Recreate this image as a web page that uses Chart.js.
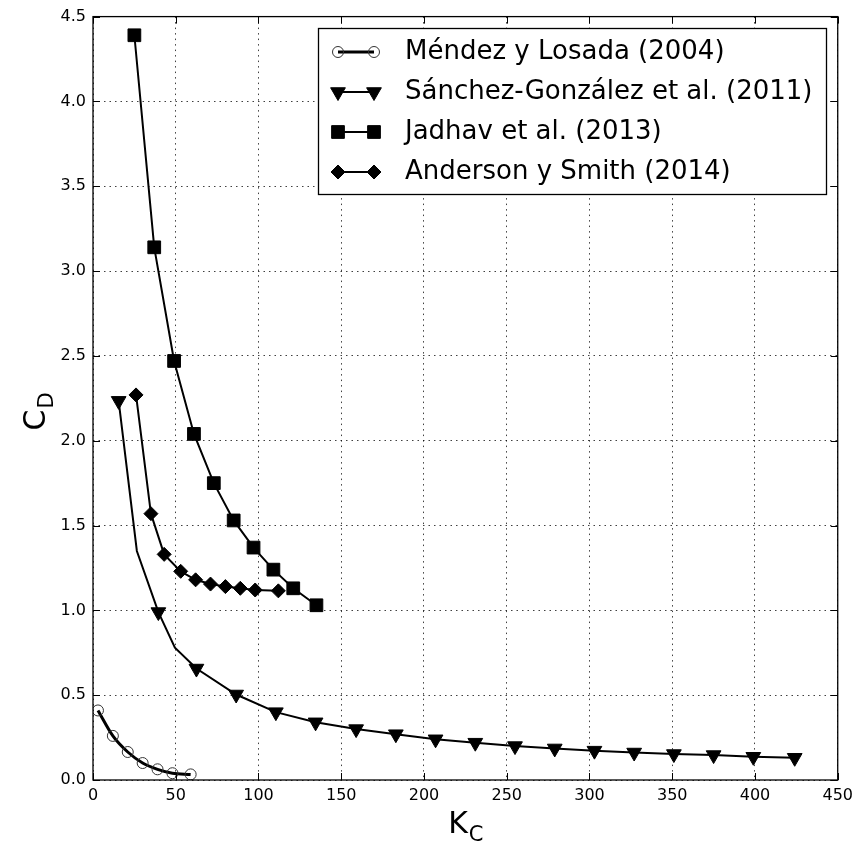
<!DOCTYPE html>
<html>
<head>
<meta charset="utf-8">
<script src="https://cdn.jsdelivr.net/npm/chart.js@4.4.0/dist/chart.umd.min.js"></script>
<style>
  html, body { margin: 0; padding: 0; background: #fff; }
  #wrap { width: 859px; height: 844px; }
</style>
</head>
<body>
<div id="wrap"><canvas id="chart" width="859" height="844"></canvas></div>
<script>
// K_C and C_D values
const kMendez = [3, 12, 21, 30, 39, 48, 59];
const cdMendez = [0.41, 0.26, 0.165, 0.10, 0.063, 0.04, 0.033];

const kSanchez = [15.5, 39.5, 62.5, 86.5, 110.5, 134.5, 159, 183, 207, 231, 255, 279, 303, 327, 351, 375, 399, 424];
const cdSanchez = [2.235, 0.99, 0.657, 0.504, 0.40, 0.34, 0.30, 0.27, 0.24, 0.22, 0.20, 0.186, 0.173, 0.162, 0.153, 0.147, 0.137, 0.131];
// visible bends of the Sánchez curve that have no marker
const kSanchezBends = [26.5, 49.5];
const cdSanchezBends = [1.35, 0.78];

const kJadhav = [25, 37, 49, 61, 73, 85, 97, 109, 121, 135];
const cdJadhav = [4.39, 3.14, 2.47, 2.04, 1.75, 1.53, 1.37, 1.24, 1.13, 1.03];

const kAnderson = [26, 35, 43, 53, 62, 71, 80, 89, 98, 112];
const cdAnderson = [2.27, 1.57, 1.33, 1.23, 1.18, 1.155, 1.14, 1.13, 1.12, 1.115];

const seriesLabels = ['Méndez y Losada (2004)', 'Sánchez-González et al. (2011)', 'Jadhav et al. (2013)', 'Anderson y Smith (2014)'];
const xTicks = [0, 50, 100, 150, 200, 250, 300, 350, 400, 450];
const yTicks = [0, 0.5, 1, 1.5, 2, 2.5, 3, 3.5, 4, 4.5];

const toXY = (xs, ys) => xs.map((x, i) => ({ x: x, y: ys[i] }));
const sanchezLine = toXY(kSanchez.concat(kSanchezBends), cdSanchez.concat(cdSanchezBends))
  .sort((a, b) => a.x - b.x);

const FONT = 'DejaVu Sans';

const mendezStyle = { pointStyle: 'circle', radius: 5.5, rotation: 0, borderWidth: 1, fill: 'rgba(0,0,0,0)', stroke: '#333', line: 3 };
const sanchezStyle = { pointStyle: 'triangle', radius: 8.5, rotation: 180, borderWidth: 1, fill: '#000', stroke: '#000', line: 2 };
const jadhavStyle = { pointStyle: 'rect', radius: 9, rotation: 0, borderWidth: 1, fill: '#000', stroke: '#000', line: 2 };
const andersonStyle = { pointStyle: 'rectRot', radius: 7, rotation: 0, borderWidth: 1, fill: '#000', stroke: '#000', line: 2 };
const legendStyles = [mendezStyle, sanchezStyle, jadhavStyle, andersonStyle];

function pointOpts(s) {
  return {
    pointStyle: s.pointStyle,
    pointRadius: s.radius,
    pointRotation: s.rotation,
    pointBorderWidth: s.borderWidth,
    pointBackgroundColor: s.fill,
    pointBorderColor: s.stroke
  };
}

// inward ticks on all four sides plus the axes frame
const frameTicks = {
  id: 'frameTicks',
  afterDatasetsDraw(chart) {
    const { ctx, chartArea: a, scales } = chart;
    const len = 7;
    ctx.save();
    ctx.strokeStyle = '#000';
    ctx.lineWidth = 1;
    ctx.beginPath();
    xTicks.forEach(v => {
      const px = Math.round(scales.x.getPixelForValue(v)) + 0.5;
      ctx.moveTo(px, a.bottom); ctx.lineTo(px, a.bottom - len);
      ctx.moveTo(px, a.top); ctx.lineTo(px, a.top + len);
    });
    yTicks.forEach(v => {
      const py = Math.round(scales.y.getPixelForValue(v)) + 0.5;
      ctx.moveTo(a.left, py); ctx.lineTo(a.left + len, py);
      ctx.moveTo(a.right, py); ctx.lineTo(a.right - len, py);
    });
    ctx.stroke();
    ctx.lineWidth = 1.3;
    ctx.strokeRect(a.left, a.top, a.right - a.left, a.bottom - a.top);
    ctx.restore();
  }
};

// axis titles with subscripts
const axisTitles = {
  id: 'axisTitles',
  afterDraw(chart) {
    const { ctx, chartArea: a } = chart;
    ctx.save();
    ctx.fillStyle = '#000';
    ctx.textBaseline = 'alphabetic';
    // x title: K_C
    const big = '30px "' + FONT + '"', small = '21px "' + FONT + '"';
    ctx.font = big;
    const wK = ctx.measureText('K').width;
    ctx.font = small;
    const wC = ctx.measureText('C').width;
    const cx = (a.left + a.right) / 2;
    const x0 = cx - (wK + wC) / 2;
    ctx.font = big;
    ctx.fillText('K', x0, 833);
    ctx.font = small;
    ctx.fillText('C', x0 + wK + 1, 841);
    // y title: C_D (rotated)
    ctx.translate(45, 412);
    ctx.rotate(-Math.PI / 2);
    ctx.font = big;
    const wC2 = ctx.measureText('C').width;
    ctx.font = small;
    const wD = ctx.measureText('D').width;
    const y0 = -(wC2 + wD) / 2;
    ctx.font = big;
    ctx.fillText('C', y0, 0);
    ctx.font = small;
    ctx.fillText('D', y0 + wC2 + 1, 8);
    ctx.restore();
  }
};

// matplotlib-style legend box
const boxLegend = {
  id: 'boxLegend',
  afterDraw(chart) {
    const { ctx } = chart;
    const box = { x: 318.5, y: 28.5, w: 508, h: 166 };
    const rows = [52, 92, 132, 172];
    ctx.save();
    ctx.fillStyle = '#fff';
    ctx.fillRect(box.x, box.y, box.w, box.h);
    ctx.strokeStyle = '#000';
    ctx.lineWidth = 1.3;
    ctx.strokeRect(box.x, box.y, box.w, box.h);
    rows.forEach((ry, i) => {
      const s = legendStyles[i];
      ctx.strokeStyle = '#000';
      ctx.lineWidth = s.line;
      ctx.beginPath();
      ctx.moveTo(338, ry); ctx.lineTo(374, ry);
      ctx.stroke();
      [338, 374].forEach(mx => {
        ctx.fillStyle = s.fill;
        ctx.strokeStyle = s.stroke;
        ctx.lineWidth = s.borderWidth;
        Chart.helpers.drawPoint(ctx, { pointStyle: s.pointStyle, radius: s.radius, rotation: s.rotation, borderWidth: s.borderWidth }, mx, ry);
      });
      ctx.fillStyle = '#000';
      ctx.font = '26px "' + FONT + '"';
      ctx.textBaseline = 'middle';
      ctx.fillText(seriesLabels[i], 405, ry);
    });
    ctx.restore();
  }
};

const gridOpts = { color: 'rgba(0,0,0,0.75)', lineWidth: 1, drawTicks: false };
const tickFont = { family: FONT, size: 16 };

new Chart(document.getElementById('chart'), {
  type: 'line',
  data: {
    datasets: [
      Object.assign({
        label: seriesLabels[0],
        data: toXY(kMendez, cdMendez),
        borderColor: '#000',
        borderWidth: mendezStyle.line,
        cubicInterpolationMode: 'monotone',
        fill: false
      }, pointOpts(mendezStyle)),
      {
        label: seriesLabels[1] + ' line',
        data: sanchezLine,
        borderColor: '#000',
        borderWidth: sanchezStyle.line,
        pointRadius: 0,
        fill: false
      },
      Object.assign({
        label: seriesLabels[1],
        data: toXY(kSanchez, cdSanchez),
        showLine: false
      }, pointOpts(sanchezStyle)),
      Object.assign({
        label: seriesLabels[2],
        data: toXY(kJadhav, cdJadhav),
        borderColor: '#000',
        borderWidth: jadhavStyle.line,
        fill: false
      }, pointOpts(jadhavStyle)),
      Object.assign({
        label: seriesLabels[3],
        data: toXY(kAnderson, cdAnderson),
        borderColor: '#000',
        borderWidth: andersonStyle.line,
        fill: false
      }, pointOpts(andersonStyle))
    ]
  },
  options: {
    responsive: false,
    animation: false,
    layout: { padding: { top: 15, right: 20, left: 0, bottom: 0 } },
    plugins: { legend: { display: false }, tooltip: { enabled: false } },
    scales: {
      x: {
        type: 'linear',
        min: 0,
        max: 450,
        afterBuildTicks: s => { s.ticks = xTicks.map(v => ({ value: v })); },
        afterFit: s => { s.height = 64; },
        ticks: { font: tickFont, color: '#000', padding: 6, maxRotation: 0, callback: v => String(v) },
        grid: gridOpts,
        border: { display: false, dash: [1.5, 4] }
      },
      y: {
        type: 'linear',
        min: 0,
        max: 4.5,
        afterBuildTicks: s => { s.ticks = yTicks.map(v => ({ value: v })); },
        afterFit: s => { s.width = 93; },
        ticks: { font: tickFont, color: '#000', padding: 7, callback: v => v.toFixed(1) },
        grid: gridOpts,
        border: { display: false, dash: [1.5, 4] }
      }
    }
  },
  plugins: [frameTicks, axisTitles, boxLegend]
});
</script>
</body>
</html>
